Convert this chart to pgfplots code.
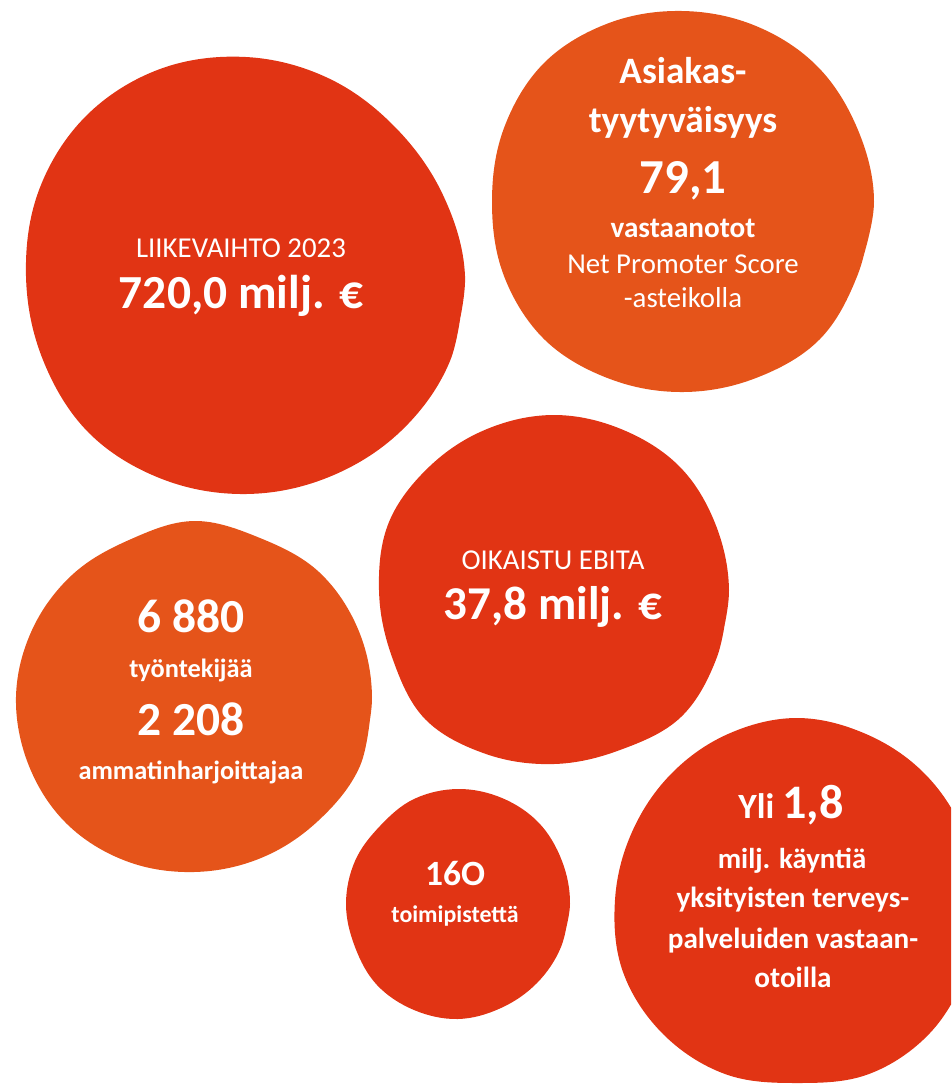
\documentclass[border=0pt]{standalone}
\usepackage{fontspec}
\setmainfont{Carlito}
\usepackage{pgfplots}
\pgfplotsset{compat=1.18}
\definecolor{bubred}{RGB}{225,52,20}
\definecolor{bubora}{RGB}{229,84,26}

% text sizes, in pt
\newcommand{\fs}[1]{\fontsize{#1}{#1}\selectfont}
\tikzset{
  lbl/.style={text=white, anchor=base, inner sep=0pt},
  bub/.style={draw=none, smooth, tension=0.62},
}

\begin{document}
\begin{tikzpicture}
\begin{axis}[
  scale only axis,
  width=9.51cm, height=10.84cm,
  xmin=0, xmax=951, ymin=0, ymax=1084,
  y dir=reverse,
  hide axis,
]
\path (rel axis cs:0,0) rectangle (rel axis cs:1,1);

% bubble outlines: 16 edge points each (px),
% first two repeated at the end so the outline closes smoothly
% LIIKEVAIHTO
\addplot[fill=bubred, bub] coordinates {
  (465,276) (450,361) (401,431) (329,477) (246,494) (162,479) (89,433)
  (43,360) (26,276) (39,190) (86,116) (160,69) (246,57) (328,78)
  (395,127) (443,195) (465,276) (450,361)};
% Asiakastyytyvaisyys
\addplot[fill=bubora, bub] coordinates {
  (874,202) (858,274) (820,339) (756,378) (683,392) (610,379) (545,340)
  (504,276) (492,202) (504,128) (544,63) (609,23) (683,11) (756,26)
  (818,67) (858,130) (874,202) (858,274)};
% EBITA
\addplot[fill=bubred, bub] coordinates {
  (729,590) (717,657) (681,717) (620,750) (554,764) (486,754) (425,719)
  (392,657) (379,590) (389,522) (430,466) (487,429) (554,415) (621,429)
  (679,466) (715,523) (729,590) (717,657)};
% henkilosto
\addplot[fill=bubora, bub] coordinates {
  (372,697) (360,766) (318,821) (261,858) (194,872) (126,861) (67,824)
  (29,766) (16,697) (32,630) (72,575) (129,540) (194,521) (260,538)
  (319,572) (358,629) (372,697) (360,766)};
% toimipisteet
\addplot[fill=bubred, bub] coordinates {
  (570,904) (561,947) (537,983) (501,1008) (458,1019) (414,1010)
  (377,985) (355,947) (346,904) (355,861) (380,826) (414,799) (458,789)
  (502,798) (539,823) (562,861) (570,904) (561,947)};
% kaynnit
\addplot[fill=bubred, bub] coordinates {
  (979,900) (967,970) (930,1033) (869,1074) (797,1083) (725,1074)
  (663,1034) (623,972) (615,900) (632,832) (671,774) (728,734) (797,718)
  (866,734) (924,773) (963,831) (979,900) (967,970)};

\node[lbl, font=\fs{8.2}] at (axis cs:241,257) {LIIKEVAIHTO 2023};
\node[lbl, font=\fs{13.5}\bfseries] at (axis cs:241,308) {720,0 milj. €};

\node[lbl, font=\fs{10.6}\bfseries] at (axis cs:683,83) {Asiakas-};
\node[lbl, font=\fs{10.6}\bfseries] at (axis cs:683,132) {tyytyväisyys};
\node[lbl, font=\fs{13.9}\bfseries] at (axis cs:683,193) {79,1};
\node[lbl, font=\fs{8.3}\bfseries] at (axis cs:683,237) {vastaanotot};
\node[lbl, font=\fs{8.2}] at (axis cs:683,273) {Net Promoter Score};
\node[lbl, font=\fs{8.2}] at (axis cs:683,307) {-asteikolla};

\node[lbl, font=\fs{8.2}] at (axis cs:553,569) {OIKAISTU EBITA};
\node[lbl, font=\fs{13.4}\bfseries] at (axis cs:553,619) {37,8 milj. €};

\node[lbl, font=\fs{13.5}\bfseries] at (axis cs:191,632) {6 880};
\node[lbl, font=\fs{7.5}\bfseries] at (axis cs:191,677) {työntekijää};
\node[lbl, font=\fs{13.5}\bfseries] at (axis cs:191,735) {2 208};
\node[lbl, font=\fs{7.5}\bfseries] at (axis cs:191,779) {ammatinharjoittajaa};

\node[lbl, font=\fs{10.1}\bfseries] at (axis cs:455,885) {16O};
\node[lbl, font=\fs{6.8}\bfseries] at (axis cs:455,922) {toimipistettä};

\node[lbl] at (axis cs:791,818) {\fs{10.1}\bfseries Yli \fs{13.7}1,8};
\node[lbl, font=\fs{8.2}\bfseries] at (axis cs:792,868) {milj. käyntiä};
\node[lbl, font=\fs{8.3}\bfseries] at (axis cs:793,907) {yksityisten terveys-};
\node[lbl, font=\fs{8.3}\bfseries] at (axis cs:793,948) {palveluiden vastaan-};
\node[lbl, font=\fs{8.3}\bfseries] at (axis cs:793,987) {otoilla};
\end{axis}
\end{tikzpicture}
\end{document}
